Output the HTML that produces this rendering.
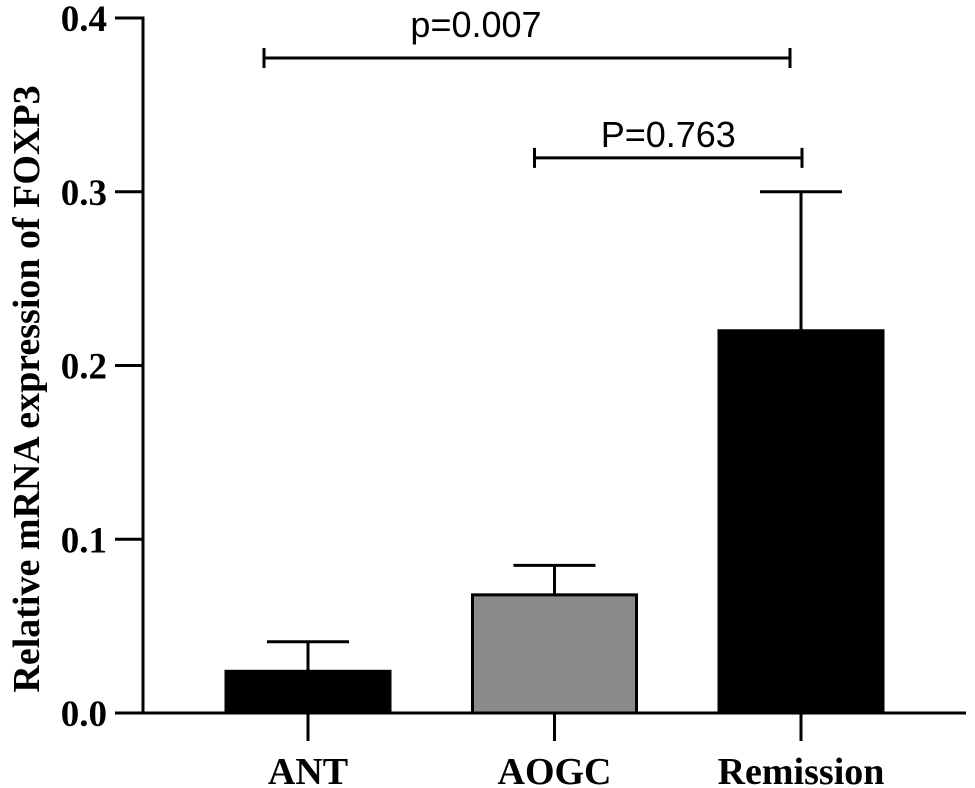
<!DOCTYPE html>
<html><head><meta charset="utf-8"><style>
html,body{margin:0;padding:0;background:#fff;}
svg{display:block;}
.tick{font-family:"Liberation Serif",serif;font-weight:bold;font-size:37px;fill:#000;}
.cat{font-family:"Liberation Serif",serif;font-weight:bold;font-size:38px;fill:#000;}
.pv{font-family:"Liberation Sans",sans-serif;font-size:36px;fill:#000;}
</style></head><body>
<svg width="975" height="788" viewBox="0 0 975 788">
<g id="plot"></g>
</svg>
<script>
const categories = ["ANT","AOGC","Remission"];
const means = [0.024, 0.068, 0.22];
const errors = [0.017, 0.017, 0.08];
const fills = ["#000","#8a8a8a","#000"];
const yTicks = [0, 0.1, 0.2, 0.3, 0.4];
const yTickLabels = ["0.0","0.1","0.2","0.3","0.4"];
const brackets = [{from:0,to:2,label:"p=0.007",level:0.377},{from:1,to:2,label:"P=0.763",level:0.3195}];
const bracketStyle = [{dl:-44,dr:-11,ty:-21,tx:-51},{dl:-20,dr:1,ty:-11,tx:0}];

const NS="http://www.w3.org/2000/svg";
const g=document.getElementById('plot');
const y0=713, y1=18, vmax=0.4;
const y=v=>y0-(v/vmax)*(y0-y1);
const xc=i=>308+i*246.5;
const bw=164;
function mk(t,a,txt){const e=document.createElementNS(NS,t);for(const k in a)e.setAttribute(k,a[k]);if(txt!==undefined)e.textContent=txt;g.appendChild(e);return e;}

let e=mk('line',{x1:143,y1:y(vmax)-1.5,x2:143,y2:y0,stroke:'#000','stroke-width':3});


e=mk('line',{x1:115,y1:y0,x2:966,y2:y0,stroke:'#000','stroke-width':3});


yTicks.forEach((v,i)=>{
  const t=mk('line',{x1:115,y1:y(v),x2:143,y2:y(v),stroke:'#000','stroke-width':3});
  
  
  const l=mk('text',{x:107,y:y(v)+13,'text-anchor':'end',class:'tick'},yTickLabels[i]);
  
  
});
const yt=mk('text',{transform:'translate(39,389) rotate(-90)','text-anchor':'middle',class:'cat','font-size':'39'},'Relative mRNA expression of FOXP3');



categories.forEach((c,i)=>{
  const cx=xc(i);
  const eb=mk('line',{x1:cx,y1:y(means[i]+errors[i]),x2:cx,y2:y(means[i]),stroke:'#000','stroke-width':3});
  
  
  const cap=mk('line',{x1:cx-41,y1:y(means[i]+errors[i]),x2:cx+41,y2:y(means[i]+errors[i]),stroke:'#000','stroke-width':3});
  
  
  const b=mk('rect',{x:cx-bw/2,y:y(means[i]),width:bw,height:y0-y(means[i]),fill:fills[i],stroke:'#000','stroke-width':3});
  
  
  const tk=mk('line',{x1:cx,y1:y0,x2:cx,y2:741,stroke:'#000','stroke-width':3});
  
  
  const l=mk('text',{x:cx,y:784,'text-anchor':'middle',class:'cat'},c);
  
  
});

brackets.forEach((br,k)=>{
  const s=bracketStyle[k];
  const xa=xc(br.from)+s.dl, xb=xc(br.to)+s.dr;
  const yy=y(br.level);
  const ln=mk('path',{d:`M${xa},${yy-10}V${yy+10}M${xa},${yy}H${xb}M${xb},${yy-10}V${yy+10}`,stroke:'#000','stroke-width':3,fill:'none'});
  
  
  const t=mk('text',{x:(xa+xb)/2+s.tx,y:yy+s.ty,'text-anchor':'middle',class:'pv'},br.label);
  
  
});
</script>
</body></html>
